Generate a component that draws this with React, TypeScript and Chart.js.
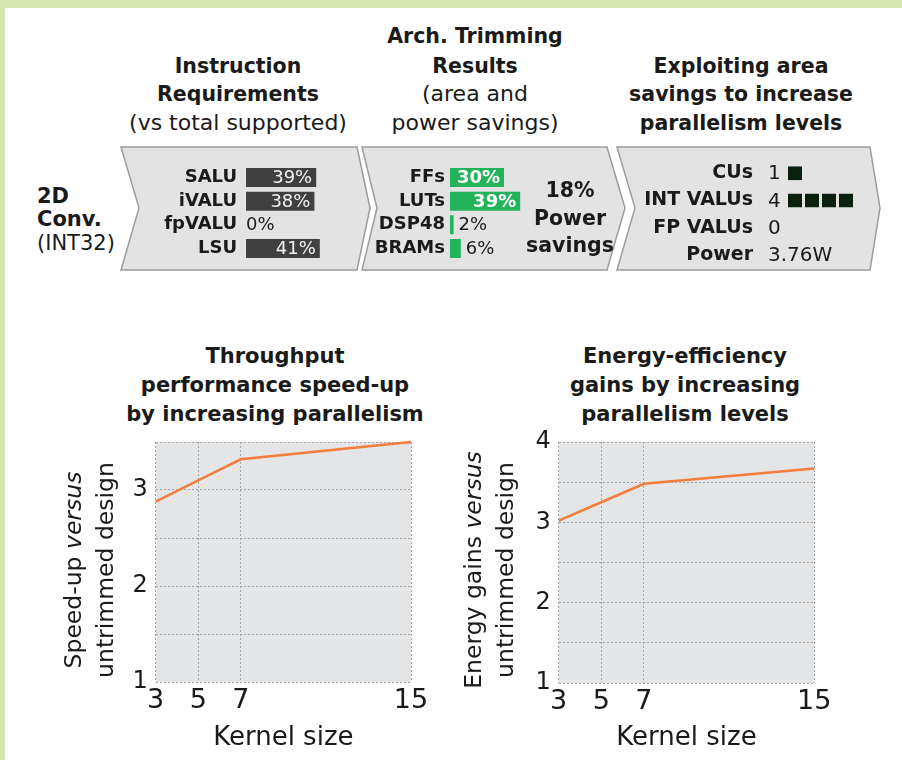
import React, { useEffect, useRef } from 'react';
import { Chart, registerables } from 'chart.js';
Chart.register(...registerables);

const FONT = '"DejaVu Sans", sans-serif';
Chart.defaults.font.family = FONT;

// ---- Instruction requirements (vs total supported) ----
const instrCategories = ['SALU', 'iVALU', 'fpVALU', 'LSU'];
const instrValues = [39, 38, 0, 41];

// ---- Arch. trimming results ----
const trimCategories = ['FFs', 'LUTs', 'DSP48', 'BRAMs'];
const trimValues = [30, 39, 2, 6];
const powerSavings = '18%';

// ---- Parallelism levels ----
const parCategories = ['CUs', 'INT VALUs', 'FP VALUs', 'Power'];
const parCounts = [1, 4, 0];
const parPower = '3.76W';

// ---- Line charts ----
const kernelSizes = [3, 5, 7, 15];
const kernelTicks = [3, 5, 7, 15];
const speedup = [2.88, 3.1, 3.32, 3.5];
const energyGains = [3.02, 3.25, 3.48, 3.67];

const TEXT = '#1a1a1a';
const CHEVRON_FILL = '#e3e3e3';

const fixWidth = (w: number) => (s: any) => {
  s.width = w;
  s.paddingTop = 0; s.paddingBottom = 0; s.paddingLeft = 0; s.paddingRight = 0;
};
const fixHeight = (h: number) => (s: any) => {
  s.height = h;
  s.paddingTop = 0; s.paddingBottom = 0; s.paddingLeft = 0; s.paddingRight = 0;
};

const bgPlugin = {
  id: 'plotBg',
  beforeDraw(chart: any) {
    const { ctx, chartArea: a } = chart;
    ctx.save();
    ctx.fillStyle = '#e4e5e7';
    ctx.fillRect(a.left, a.top, a.right - a.left, a.bottom - a.top);
    ctx.restore();
  },
};

const barLabelPlugin = (insideColor: string, insideFont: string, outsideFont: string) => ({
  id: 'barLabels',
  afterDatasetsDraw(chart: any) {
    const ctx = chart.ctx;
    const meta = chart.getDatasetMeta(0);
    const vals = chart.data.datasets[0].data;
    meta.data.forEach((bar: any, i: number) => {
      const v = vals[i];
      const txt = v + '%';
      ctx.save();
      ctx.textBaseline = 'middle';
      if (v >= 10) {
        ctx.fillStyle = insideColor;
        ctx.font = insideFont;
        ctx.textAlign = 'right';
        ctx.fillText(txt, bar.x - 4, bar.y + 1);
      } else {
        ctx.fillStyle = TEXT;
        ctx.font = outsideFont;
        ctx.textAlign = 'left';
        ctx.fillText(txt, bar.x + (v > 0 ? 5 : 0), bar.y + 1);
      }
      ctx.restore();
    });
  },
});

const parValuePlugin = {
  id: 'parValues',
  afterDatasetsDraw(chart: any) {
    const ctx = chart.ctx;
    const y = chart.scales.y;
    const texts = [...parCounts.map(String), parPower];
    ctx.save();
    ctx.fillStyle = TEXT;
    ctx.font = `20px ${FONT}`;
    ctx.textAlign = 'left';
    ctx.textBaseline = 'middle';
    texts.forEach((t, i) => {
      ctx.fillText(t, chart.chartArea.left - 20, y.getPixelForValue(i) + 1);
    });
    ctx.restore();
  },
};

function hbarConfig(labels: string[], values: number[], color: string, xMax: number, yWidth: number,
  padRight: number, tickPad: number, plugin: any) {
  return {
    type: 'bar',
    data: {
      labels,
      datasets: [{ data: values, backgroundColor: color, barPercentage: 0.8, categoryPercentage: 1, borderWidth: 0 }],
    },
    options: {
      animation: false,
      responsive: false,
      indexAxis: 'y',
      layout: { padding: { top: 5.7, bottom: 5.7, left: 0, right: padRight } },
      plugins: { legend: { display: false }, tooltip: { enabled: false } },
      scales: {
        x: { min: 0, max: xMax, display: false },
        y: {
          grid: { display: false, drawTicks: false },
          border: { display: false },
          ticks: { color: TEXT, font: { size: 18, weight: 'bold' }, padding: tickPad, autoSkip: false },
          afterFit: fixWidth(yWidth),
        },
      },
    },
    plugins: [plugin],
  };
}

function parConfig() {
  const slots = Math.max(...parCounts);
  const datasets = Array.from({ length: slots }, (_, i) => ({
    data: [...parCounts.map((c) => (c > i ? 1 : 0)), null],
    backgroundColor: '#0b2110',
    borderColor: CHEVRON_FILL,
    borderWidth: { top: 0, bottom: 0, left: 0, right: 3 },
    borderSkipped: false,
    barThickness: 14,
    inflateAmount: 0,
  }));
  return {
    type: 'bar',
    data: { labels: parCategories, datasets },
    options: {
      animation: false,
      responsive: false,
      indexAxis: 'y',
      layout: { padding: { top: 4.5, bottom: 4.5, left: 0, right: 14 } },
      plugins: { legend: { display: false }, tooltip: { enabled: false } },
      scales: {
        x: { stacked: true, min: 0, max: slots, display: false },
        y: {
          stacked: true,
          grid: { display: false, drawTicks: false },
          border: { display: false },
          ticks: { color: TEXT, font: { size: 19, weight: 'bold' }, padding: 35, autoSkip: false },
          afterFit: fixWidth(148),
        },
      },
    },
    plugins: [parValuePlugin],
  };
}

function lineConfig(values: number[], yMax: number, yWidth: number, padRight: number, xHeight: number) {
  const grid = { color: '#a3a3a3', lineWidth: 1, drawTicks: false };
  return {
    type: 'line',
    data: {
      datasets: [{
        data: kernelSizes.map((k, i) => ({ x: k, y: values[i] })),
        borderColor: '#f47d3b',
        borderWidth: 2.5,
        pointRadius: 0,
        tension: 0,
        fill: false,
        clip: false,
      }],
    },
    options: {
      animation: false,
      responsive: false,
      layout: { padding: { top: 12, right: padRight, left: 0, bottom: 0 } },
      plugins: { legend: { display: false }, tooltip: { enabled: false } },
      scales: {
        x: {
          type: 'linear',
          min: 3,
          max: 15,
          afterBuildTicks: (s: any) => { s.ticks = kernelTicks.map((v) => ({ value: v })); },
          ticks: { color: TEXT, font: { size: 27 }, padding: 3, maxRotation: 0, autoSkip: false },
          grid,
          border: { display: false, dash: [2, 2] },
          title: { display: true, text: 'Kernel size', color: TEXT, font: { size: 26 }, padding: { top: 0, bottom: 6 } },
          afterFit: fixHeight(xHeight),
        },
        y: {
          min: 1,
          max: yMax,
          ticks: {
            stepSize: 0.5,
            color: TEXT,
            font: { size: 24 },
            padding: 8,
            callback: (v: any) => (Number.isInteger(v) ? String(v) : ''),
          },
          grid,
          border: { display: false, dash: [2, 2] },
          afterFit: fixWidth(yWidth),
        },
      },
    },
    plugins: [bgPlugin],
  };
}

function ChartBox({ left, top, width, height, make }: { left: number; top: number; width: number; height: number; make: () => any }) {
  const ref = useRef<HTMLCanvasElement>(null);
  useEffect(() => {
    const chart = new Chart(ref.current as HTMLCanvasElement, make());
    return () => chart.destroy();
  }, []);
  return (
    <canvas
      ref={ref}
      width={width}
      height={height}
      style={{ position: 'absolute', left, top, width, height }}
    />
  );
}

function Txt({ x, y, children, bold = false, size = 20.5, align = 'center', lh = 28 }: any) {
  const w = 420;
  const left = align === 'center' ? x - w / 2 : align === 'left' ? x : x - w;
  return (
    <div
      style={{
        position: 'absolute',
        left,
        top: y - lh / 2,
        width: w,
        height: lh,
        lineHeight: `${lh}px`,
        fontSize: size,
        fontWeight: bold ? 'bold' : 'normal',
        fontFamily: FONT,
        color: TEXT,
        textAlign: align,
        whiteSpace: 'nowrap',
      }}
    >
      {children}
    </div>
  );
}

function VTitle({ cx, cy, l1, l2 }: any) {
  const w = 280;
  const h = 64;
  return (
    <div
      style={{
        position: 'absolute',
        left: cx - w / 2,
        top: cy - h / 2,
        width: w,
        height: h,
        transform: 'rotate(-90deg)',
        transformOrigin: 'center',
        textAlign: 'center',
        fontFamily: FONT,
        fontSize: 23.5,
        lineHeight: '32px',
        color: TEXT,
        whiteSpace: 'nowrap',
      }}
    >
      <div>{l1}</div>
      <div>{l2}</div>
    </div>
  );
}

const chevrons = [
  '121,147 357,147 370,208 357,270 121,270 139,208',
  '362,147 607,147 625,208 607,270 362,270 377,208',
  '617,147 870,147 880,208 870,270 617,270 635,208',
];

export default function App() {
  useEffect(() => {
    document.body.style.margin = '0';
  }, []);
  return (
    <div style={{ position: 'fixed', left: 0, top: 0, width: 902, height: 760, background: '#d6e5b1', overflow: 'hidden' }}>
      <div style={{ position: 'absolute', left: 5, top: 8, right: 0, bottom: 0, background: '#ffffff' }} />
      <svg width={902} height={760} style={{ position: 'absolute', left: 0, top: 0 }}>
        {chevrons.map((p, i) => (
          <polygon key={i} points={p} fill={CHEVRON_FILL} stroke="#9c9c9c" strokeWidth={1.5} />
        ))}
      </svg>

      {/* headers */}
      <Txt x={238} y={66} bold>Instruction</Txt>
      <Txt x={238} y={94} bold>Requirements</Txt>
      <Txt x={238} y={123} size={22}>(vs total supported)</Txt>
      <Txt x={475} y={36} bold>Arch. Trimming</Txt>
      <Txt x={475} y={66} bold>Results</Txt>
      <Txt x={475} y={94} size={22}>(area and</Txt>
      <Txt x={475} y={123} size={22}>power savings)</Txt>
      <Txt x={741} y={66} bold>Exploiting area</Txt>
      <Txt x={741} y={94} bold>savings to increase</Txt>
      <Txt x={741} y={123} bold>parallelism levels</Txt>

      <Txt x={37} y={196} bold size={21} align="left">2D</Txt>
      <Txt x={37} y={219} bold size={21} align="left">Conv.</Txt>
      <Txt x={37} y={243} size={21} align="left">(INT32)</Txt>

      <ChartBox left={140} top={160} width={220} height={106}
        make={() => hbarConfig(instrCategories, instrValues, '#404040', 60, 106, 6, 9,
          barLabelPlugin('#f2f2f2', `18px ${FONT}`, `18px ${FONT}`))} />
      <ChartBox left={360} top={160} width={166} height={106}
        make={() => hbarConfig(trimCategories, trimValues, '#22b35b', 40, 90, 4, 5,
          barLabelPlugin('#ffffff', `bold 18px ${FONT}`, `18px ${FONT}`))} />
      <Txt x={570} y={190} bold>{powerSavings}</Txt>
      <Txt x={570} y={218} bold>Power</Txt>
      <Txt x={570} y={245} bold>savings</Txt>
      <ChartBox left={640} top={155} width={230} height={118} make={parConfig} />

      {/* line charts */}
      <ChartBox left={100} top={430} width={330} height={330}
        make={() => lineConfig(speedup, 3.5, 55.7, 19, 78)} />
      <ChartBox left={500} top={430} width={340} height={330}
        make={() => lineConfig(energyGains, 4, 58.7, 25.7, 77)} />

      <Txt x={275} y={356} bold size={21}>Throughput</Txt>
      <Txt x={275} y={385} bold size={21}>performance speed-up</Txt>
      <Txt x={275} y={414} bold size={21}>by increasing parallelism</Txt>
      <Txt x={685} y={356} bold size={21}>Energy-efficiency</Txt>
      <Txt x={685} y={385} bold size={21}>gains by increasing</Txt>
      <Txt x={685} y={414} bold size={21}>parallelism levels</Txt>

      <VTitle cx={89} cy={570} l1={<span>Speed-up <i>versus</i></span>} l2="untrimmed design" />
      <VTitle cx={489} cy={570} l1={<span>Energy gains <i>versus</i></span>} l2="untrimmed design" />
    </div>
  );
}
